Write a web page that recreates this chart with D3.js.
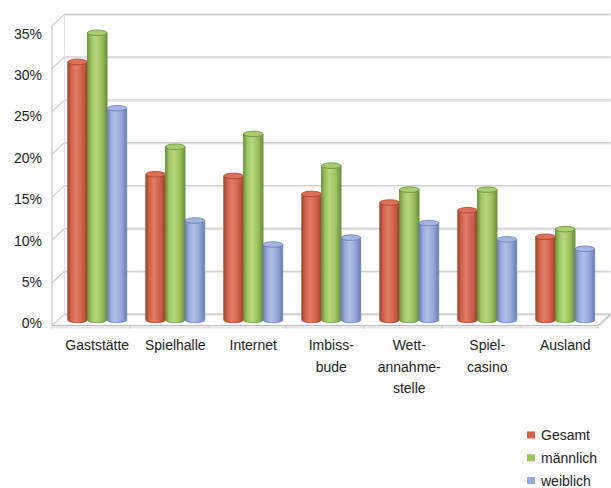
<!DOCTYPE html>
<html>
<head>
<meta charset="utf-8">
<script src="https://cdn.jsdelivr.net/npm/d3@7"></script>
<style>
  html, body { margin: 0; padding: 0; background: #fff; }
  svg { display: block; font-family: "Liberation Sans", Arial, sans-serif; }
</style>
</head>
<body>
<svg id="chart" width="611" height="488"></svg>
<script>
// Orte, an denen gespielt wird (Anteil in %), nach Geschlecht
const categories = [
  ["Gaststätte"],
  ["Spielhalle"],
  ["Internet"],
  ["Imbiss-", "bude"],
  ["Wett-", "annahme-", "stelle"],
  ["Spiel-", "casino"],
  ["Ausland"]
];
const seriesNames = ["Gesamt", "männlich", "weiblich"];
const gesamt    = [30.1, 17.0, 16.8, 14.7, 13.7, 12.8, 9.7];
const maennlich = [33.5, 20.2, 21.7, 18.0, 15.2, 15.2, 10.6];
const weiblich  = [24.7, 11.6,  8.8,  9.6, 11.3,  9.4,  8.3];
const yTicks = [0, 5, 10, 15, 20, 25, 30, 35];
const tickLabels = ["0%", "5%", "10%", "15%", "20%", "25%", "30%", "35%"];

const seriesValues = [gesamt, maennlich, weiblich];

// cylinder shading per series: edge, body, highlight, cap
const palette = [
  { edge: "#a5442f", body: "#d2624b", light: "#e27d65", cap: "#db6f58" },
  { edge: "#6c8e3e", body: "#9dc35f", light: "#b5d780", cap: "#a9cc70" },
  { edge: "#6b7db0", body: "#95a9d8", light: "#b0c1e7", cap: "#a3b5e0" }
];

const svg = d3.select("#chart");
const defs = svg.append("defs");

// 3D frame geometry
const left = 52, right = 598;
const depth = { dx: 12.5, dy: -11.5 };

const y = d3.scaleLinear().domain([0, 35]).range([325.7, 25.7]);
const yLabel = d3.scaleLinear().domain([0, 35]).range([323.3, 33.7]);

const x = d3.scaleBand()
  .domain(d3.range(categories.length))
  .range([left, right])
  .paddingInner(0.244)
  .paddingOuter(0.122);
const sub = d3.scaleBand().domain(seriesNames).range([0, x.bandwidth()]);

const grid = "#d0d0d0";

// back wall gridlines
const back = svg.append("g");
back.selectAll("line.shadow").data(yTicks).join("line")
  .attr("x1", left + depth.dx).attr("x2", right + depth.dx)
  .attr("y1", d => y(d) + depth.dy + 1.2).attr("y2", d => y(d) + depth.dy + 1.2)
  .attr("stroke", "#ececec").attr("stroke-width", 1.2);
back.selectAll("line.grid").data(yTicks).join("line")
  .attr("x1", left + depth.dx).attr("x2", right + depth.dx)
  .attr("y1", d => y(d) + depth.dy).attr("y2", d => y(d) + depth.dy)
  .attr("stroke", grid).attr("stroke-width", 1.4);
back.append("line")
  .attr("x1", left + depth.dx).attr("x2", left + depth.dx)
  .attr("y1", y(35) + depth.dy).attr("y2", y(0) + depth.dy)
  .attr("stroke", "#e2e2e2").attr("stroke-width", 1);

// left side wall: tick diagonals and front edge
const side = svg.append("g");
side.selectAll("line").data(yTicks).join("line")
  .attr("x1", left).attr("y1", d => y(d))
  .attr("x2", left + depth.dx).attr("y2", d => y(d) + depth.dy)
  .attr("stroke", grid).attr("stroke-width", 1.3);
side.append("line")
  .attr("x1", left).attr("x2", left)
  .attr("y1", y(35)).attr("y2", y(0))
  .attr("stroke", "#c4c4c4").attr("stroke-width", 1.2);

// floor
const floor = svg.append("g");
floor.append("path")
  .attr("d", `M${left},${y(0)} L${right},${y(0)} L${right + depth.dx},${y(0) + depth.dy}`)
  .attr("fill", "none").attr("stroke", "#bdbdbd").attr("stroke-width", 1.3);
floor.append("path")
  .attr("d", `M${left},${y(0) + 2} L${right},${y(0) + 2} L${right + depth.dx},${y(0) + depth.dy + 2}`)
  .attr("fill", "none").attr("stroke", "#e0e0e0").attr("stroke-width", 1);
floor.append("line")
  .attr("x1", left + depth.dx).attr("x2", right + depth.dx)
  .attr("y1", y(0) + depth.dy).attr("y2", y(0) + depth.dy)
  .attr("stroke", grid).attr("stroke-width", 1.3);
floor.selectAll("line.cat").data(d3.range(categories.length + 1)).join("line")
  .attr("x1", i => left + i * x.step()).attr("x2", i => left + i * x.step())
  .attr("y1", y(0)).attr("y2", y(0) + 3)
  .attr("stroke", "#c8c8c8").attr("stroke-width", 1);

// gradients for cylinder bodies
palette.forEach((p, i) => {
  const g = defs.append("linearGradient").attr("id", "cyl" + i)
    .attr("x1", "0%").attr("x2", "100%").attr("y1", "0%").attr("y2", "0%");
  [[0, p.edge], [0.18, p.body], [0.42, p.light], [0.72, p.body], [1, p.edge]]
    .forEach(([o, c]) => g.append("stop").attr("offset", o).attr("stop-color", c));
});

// cylinders sit at mid depth of the floor
const mid = { dx: depth.dx / 2, dy: depth.dy / 2 };
const ry = 2.8;

const bars = [];
categories.forEach((c, i) => {
  seriesNames.forEach((s, k) => {
    bars.push({ i, k, v: seriesValues[k][i] });
  });
});

const barG = svg.append("g");
bars.forEach(b => {
  const x0 = x(b.i) + sub(seriesNames[b.k]) + mid.dx;
  const w = sub.bandwidth();
  const rx = w / 2;
  const cx = x0 + rx;
  const yb = y(0) + mid.dy;
  const yt = y(b.v) + mid.dy;
  const p = palette[b.k];
  const g = barG.append("g");
  g.append("path")
    .attr("d", `M${x0},${yt} L${x0},${yb} A${rx},${ry} 0 0 0 ${x0 + w},${yb} L${x0 + w},${yt} Z`)
    .attr("fill", `url(#cyl${b.k})`)
    .attr("stroke", p.edge).attr("stroke-width", 0.8);
  g.append("ellipse")
    .attr("cx", cx).attr("cy", yt).attr("rx", rx).attr("ry", ry)
    .attr("fill", p.cap).attr("stroke", p.edge).attr("stroke-width", 0.8);
});

// value axis labels
svg.append("g").selectAll("text").data(yTicks).join("text")
  .attr("x", 42).attr("y", d => yLabel(d))
  .attr("text-anchor", "end").attr("dominant-baseline", "central")
  .attr("font-size", 14).attr("fill", "#222")
  .text((d, i) => tickLabels[i]);

// category labels
const catG = svg.append("g");
categories.forEach((lines, i) => {
  const cx = x(i) + x.bandwidth() / 2 + mid.dx;
  const t = catG.append("text")
    .attr("text-anchor", "middle").attr("font-size", 14).attr("fill", "#222");
  lines.forEach((ln, j) => {
    t.append("tspan").attr("x", cx).attr("y", 350 + j * 21.5).text(ln);
  });
});

// legend
const legend = svg.append("g");
seriesNames.forEach((s, k) => {
  const ly = 435 + k * 22.8;
  legend.append("rect")
    .attr("x", 527).attr("y", ly - 3.5).attr("width", 8).attr("height", 7)
    .attr("fill", palette[k].body);
  legend.append("text")
    .attr("x", 541).attr("y", ly).attr("dominant-baseline", "central")
    .attr("font-size", 14).attr("fill", "#222").text(s);
});
</script>
</body>
</html>
